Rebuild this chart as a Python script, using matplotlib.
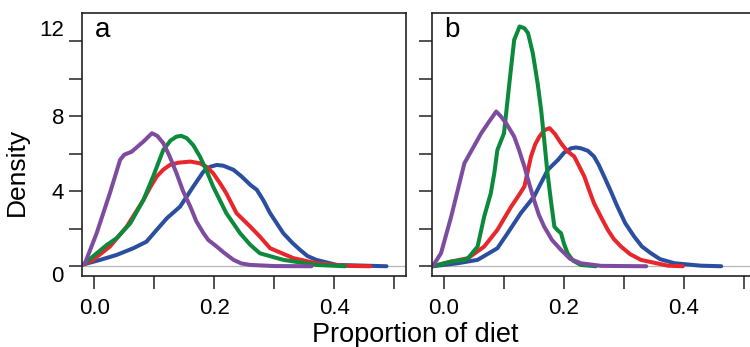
import matplotlib
matplotlib.use('Agg')
import matplotlib.pyplot as plt
from matplotlib.ticker import FixedLocator

plt.rcParams['font.family'] = ['Liberation Sans', 'DejaVu Sans']

# colours
purple = '#7d4c9f'
green = '#0b8a3b'
red = '#e8262b'
blue = '#2b4f9e'

# panel a: density curves
a_purple_x = [-0.018, -0.015, 0.004, 0.026, 0.043, 0.05, 0.062, 0.082, 0.096, 0.105, 0.115, 0.125, 0.137, 0.148, 0.16, 0.17, 0.182, 0.19, 0.204, 0.215, 0.232, 0.245, 0.26, 0.30, 0.362]
a_purple_y = [0.1, 0.2, 1.77, 3.9, 5.67, 5.95, 6.1, 6.65, 7.09, 6.95, 6.56, 5.9, 4.96, 4.0, 3.18, 2.4, 1.76, 1.4, 1.05, 0.75, 0.34, 0.15, 0.07, 0.01, 0.0]

a_green_x = [-0.018, 0.004, 0.021, 0.037, 0.06, 0.082, 0.098, 0.115, 0.127, 0.137, 0.145, 0.154, 0.165, 0.176, 0.187, 0.198, 0.22, 0.243, 0.26, 0.276, 0.315, 0.37, 0.418]
a_green_y = [0.1, 0.69, 1.14, 1.49, 2.29, 3.54, 4.78, 6.2, 6.7, 6.91, 6.95, 6.83, 6.45, 5.85, 5.1, 4.25, 2.83, 1.76, 1.14, 0.69, 0.34, 0.07, 0.0]

a_red_x = [-0.018, -0.002, 0.026, 0.054, 0.082, 0.093, 0.104, 0.115, 0.126, 0.14, 0.16, 0.176, 0.187, 0.198, 0.209, 0.22, 0.237, 0.26, 0.276, 0.293, 0.332, 0.37, 0.42, 0.46]
a_red_y = [0.1, 0.34, 1.05, 2.11, 3.54, 4.2, 4.78, 5.15, 5.4, 5.52, 5.58, 5.49, 5.3, 4.96, 4.45, 3.89, 2.83, 2.11, 1.58, 0.96, 0.43, 0.16, 0.02, 0.0]

a_blue_x = [-0.018, 0.01, 0.037, 0.065, 0.087, 0.104, 0.121, 0.143, 0.165, 0.182, 0.193, 0.204, 0.215, 0.232, 0.245, 0.26, 0.271, 0.282, 0.293, 0.315, 0.33, 0.343, 0.355, 0.37, 0.404, 0.487]
a_blue_y = [0.1, 0.34, 0.6, 0.96, 1.31, 1.94, 2.56, 3.18, 4.25, 5.05, 5.3, 5.4, 5.36, 5.14, 4.8, 4.34, 4.07, 3.5, 2.83, 1.76, 1.25, 0.87, 0.55, 0.34, 0.07, 0.0]

# panel b
b_purple_x = [-0.019, -0.005, 0.012, 0.034, 0.062, 0.075, 0.087, 0.095, 0.104, 0.117, 0.125, 0.134, 0.142, 0.15, 0.158, 0.167, 0.18, 0.195, 0.21, 0.228, 0.262, 0.337]
b_purple_y = [0.0, 0.69, 2.65, 5.49, 7.09, 7.7, 8.25, 7.98, 7.6, 6.91, 6.2, 5.31, 4.4, 3.54, 2.75, 2.11, 1.4, 0.87, 0.4, 0.16, 0.02, 0.0]

b_green_x = [-0.019, 0.012, 0.034, 0.04, 0.056, 0.067, 0.078, 0.084, 0.089, 0.1, 0.106, 0.112, 0.117, 0.126, 0.134, 0.14, 0.148, 0.156, 0.162, 0.167, 0.172, 0.178, 0.184, 0.19, 0.195, 0.2, 0.206, 0.215, 0.228, 0.253]
b_green_y = [0.0, 0.25, 0.34, 0.43, 1.05, 2.65, 3.89, 5.0, 6.2, 7.09, 8.88, 10.65, 12.07, 12.78, 12.69, 12.43, 11.36, 9.76, 8.3, 6.74, 5.1, 3.54, 2.11, 1.9, 1.76, 1.2, 0.69, 0.3, 0.07, 0.0]

b_red_x = [-0.019, 0.012, 0.04, 0.067, 0.089, 0.112, 0.123, 0.134, 0.145, 0.152, 0.159, 0.167, 0.176, 0.185, 0.195, 0.205, 0.217, 0.234, 0.242, 0.25, 0.262, 0.273, 0.283, 0.295, 0.31, 0.328, 0.373, 0.398]
b_red_y = [0.0, 0.25, 0.43, 1.05, 1.94, 3.18, 3.7, 4.25, 5.85, 6.5, 6.91, 7.25, 7.36, 7.05, 6.56, 6.15, 5.85, 4.78, 4.05, 3.36, 2.6, 1.94, 1.45, 1.05, 0.65, 0.34, 0.03, 0.0]

b_blue_x = [-0.019, 0.023, 0.056, 0.089, 0.106, 0.128, 0.15, 0.173, 0.19, 0.2, 0.212, 0.22, 0.228, 0.24, 0.25, 0.258, 0.267, 0.278, 0.289, 0.302, 0.317, 0.33, 0.345, 0.36, 0.384, 0.428, 0.462]
b_blue_y = [0.0, 0.16, 0.34, 0.96, 1.76, 2.83, 3.71, 5.14, 5.67, 6.05, 6.29, 6.33, 6.29, 6.15, 5.85, 5.4, 4.78, 4.0, 3.18, 2.3, 1.58, 1.05, 0.69, 0.38, 0.16, 0.03, 0.0]

panels = [
    ('a', [(a_blue_x, a_blue_y, blue), (a_red_x, a_red_y, red),
           (a_green_x, a_green_y, green), (a_purple_x, a_purple_y, purple)]),
    ('b', [(b_blue_x, b_blue_y, blue), (b_red_x, b_red_y, red),
           (b_green_x, b_green_y, green), (b_purple_x, b_purple_y, purple)]),
]

fig = plt.figure(figsize=(7.5, 3.47), dpi=100)
ax_a = fig.add_axes([82 / 750, 71 / 347, 324 / 750, 263 / 347])
ax_b = fig.add_axes([431.7 / 750, 71 / 347, 324 / 750, 263 / 347])

for ax, (letter, curves) in zip([ax_a, ax_b], panels):
    ax.axhline(0, color='#b5b5b5', lw=0.9, zorder=1)
    for x, y, c in curves:
        ax.plot(x, y, color=c, lw=2.9, solid_capstyle='round',
                solid_joinstyle='round', zorder=2)
    ax.set_xlim(-0.0205, 0.5195)
    ax.set_ylim(-0.52, 13.5)
    ax.xaxis.set_major_locator(FixedLocator([0.0, 0.2, 0.4]))
    ax.xaxis.set_minor_locator(FixedLocator([0.1, 0.3, 0.5]))
    ax.yaxis.set_major_locator(FixedLocator([0, 4, 8, 12]))
    ax.yaxis.set_minor_locator(FixedLocator([2, 6, 10]))
    ax.set_xticklabels(['0.0', '0.2', '0.4'])
    ax.tick_params(which='both', direction='out', length=9.5, width=1.1,
                   color='#222222', top=False, right=False)
    ax.tick_params(axis='x', which='major', labelsize=16, pad=6.5)
    ax.tick_params(axis='y', which='major', labelsize=16, pad=3.5)
    for s in ax.spines.values():
        s.set_linewidth(1.2)
        s.set_color('#222222')
    ax.text(0.04, 0.907, letter, transform=ax.transAxes, fontsize=20,
            va='baseline', ha='left')

ax_a.set_yticklabels(['0', '4', '8', '12'])
ylabels = ax_a.get_yticklabels()
ylabels[0].set_va('top')
ylabels[-1].set_va('bottom')
ax_b.set_yticklabels([])

fig.text(17 / 750, 0.5 + 1.5 / 347, 'Density', rotation=90, fontsize=19,
         ha='center', va='center')
fig.text(415 / 750, 5 / 347, 'Proportion of diet', fontsize=19.5,
         ha='center', va='baseline')

fig.savefig('out.png', dpi=100)
